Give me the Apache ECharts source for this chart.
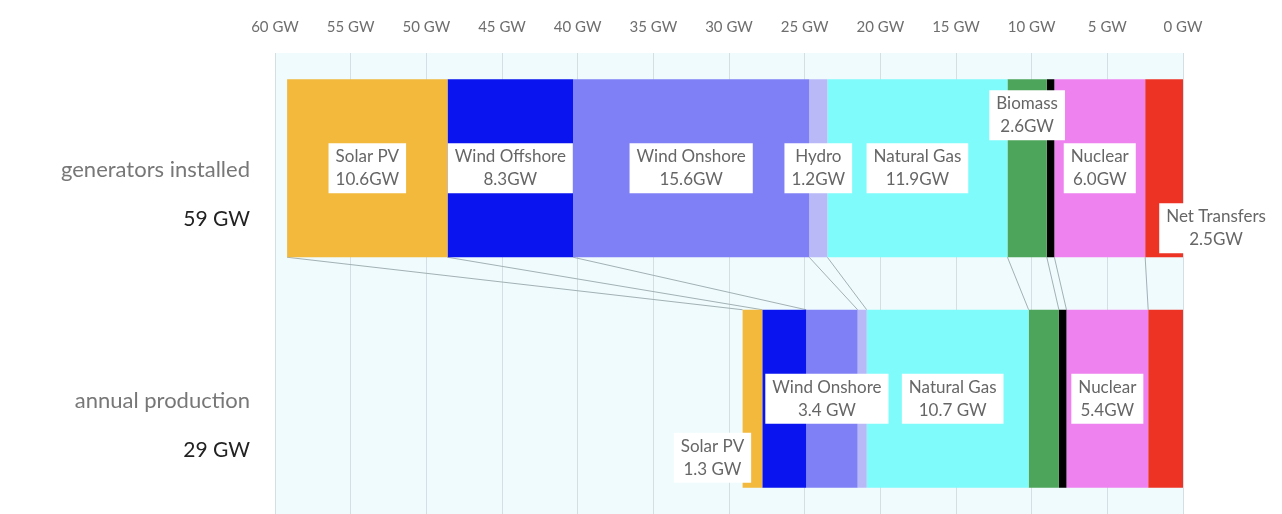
<!DOCTYPE html>
<html>
<head>
<meta charset="utf-8">
<script src="https://cdn.jsdelivr.net/npm/echarts@6/dist/echarts.min.js"></script>
<style>
  html, body { margin: 0; padding: 0; background: #ffffff; }
  #chart { width: 1282px; height: 514px; }
</style>
</head>
<body>
<div id="chart"></div>
<script>
// ---- data ----
const CATEGORIES = ['generators installed', 'annual production'];
const TOTALS = ['59 GW', '29 GW'];
// stacked from 0 GW (right) towards 60 GW (left)
const SOURCES = ['Net Transfers', 'Nuclear', 'Coal', 'Biomass', 'Natural Gas', 'Hydro', 'Wind Onshore', 'Wind Offshore', 'Solar PV'];
const INSTALLED = [2.5, 6.0, 0.5, 2.6, 11.9, 1.2, 15.6, 8.3, 10.6];
const PRODUCTION = [2.3, 5.4, 0.5, 2.0, 10.7, 0.6, 3.4, 2.9, 1.3];
const INSTALLED_VALUE_TEXT = ['2.5GW', '6.0GW', null, '2.6GW', '11.9GW', '1.2GW', '15.6GW', '8.3GW', '10.6GW'];
const PRODUCTION_VALUE_TEXT = [null, '5.4GW', null, null, '10.7 GW', null, '3.4 GW', null, '1.3 GW'];
const X_MIN = 0, X_MAX = 60, X_STEP = 5, X_UNIT = ' GW';

// ---- styles ----
const COLORS = {
  'Net Transfers': '#ec3324',
  'Nuclear': '#ee82ee',
  'Coal': '#000000',
  'Biomass': '#4ca55a',
  'Natural Gas': '#7ffbfb',
  'Hydro': '#b9b9f8',
  'Wind Onshore': '#8080f6',
  'Wind Offshore': '#0a14ee',
  'Solar PV': '#f2b93c'
};
const LABEL_OFFSETS = {
  installed: { 'Biomass': [0, -53], 'Net Transfers': [52, 60] },
  production: { 'Solar PV': [-40, 59], 'Wind Onshore': [-5, 0], 'Natural Gas': [5, 0] }
};
const BAR_W = 178;
const FONT = 'Lato, "Open Sans", sans-serif';

const labelBase = {
  show: true,
  position: 'inside',
  backgroundColor: '#ffffff',
  color: '#666666',
  fontFamily: FONT,
  fontSize: 17,
  lineHeight: 23,
  padding: [3, 7, 1, 7],
  align: 'center'
};

function makeItem(value, source, valueText, offsets) {
  const item = { value: value };
  if (valueText) {
    item.label = Object.assign({}, labelBase, {
      formatter: source + '\n' + valueText,
      offset: offsets[source] || [0, 0]
    });
  } else {
    item.label = { show: false };
  }
  return item;
}

const barSeries = SOURCES.map((src, i) => ({
  name: src,
  type: 'bar',
  stack: 'total',
  barWidth: BAR_W,
  itemStyle: { color: COLORS[src] },
  emphasis: { disabled: true },
  data: [
    makeItem(INSTALLED[i], src, INSTALLED_VALUE_TEXT[i], LABEL_OFFSETS.installed),
    makeItem(PRODUCTION[i], src, PRODUCTION_VALUE_TEXT[i], LABEL_OFFSETS.production)
  ],
  z: 3
}));

// cumulative boundaries (left edge of each segment) for connector lines
const links = [];
let cTop = 0, cBot = 0;
for (let i = 0; i < SOURCES.length; i++) {
  cTop += INSTALLED[i];
  cBot += PRODUCTION[i];
  links.push([+cTop.toFixed(2), +cBot.toFixed(2), 0]);
}

const linkSeries = {
  type: 'custom',
  encode: { x: [0, 1], y: 2 },
  data: links,
  silent: true,
  z: 2,
  renderItem: function (params, api) {
    const p1 = api.coord([api.value(0), 0]);
    const p2 = api.coord([api.value(1), 1]);
    return {
      type: 'line',
      shape: { x1: p1[0], y1: p1[1] + BAR_W / 2, x2: p2[0], y2: p2[1] - BAR_W / 2 },
      style: { stroke: '#a3b1b5', lineWidth: 1 }
    };
  }
};

const chart = echarts.init(document.getElementById('chart'), null, { renderer: 'canvas' });
chart.setOption({
  animation: false,
  backgroundColor: '#ffffff',
  grid: {
    left: 275, right: 99, top: 53, height: 464,
    show: true, backgroundColor: '#effbfd', borderWidth: 0
  },
  xAxis: {
    type: 'value',
    position: 'top',
    inverse: true,
    min: X_MIN, max: X_MAX, interval: X_STEP,
    axisLine: { show: false },
    axisTick: { show: false },
    axisLabel: {
      formatter: v => v + X_UNIT,
      color: '#6e6e6e',
      fontFamily: FONT,
      fontSize: 15,
      margin: 18
    },
    splitLine: { show: true, lineStyle: { color: '#d3dfe2', width: 1 } }
  },
  yAxis: {
    type: 'category',
    inverse: true,
    data: CATEGORIES,
    axisLine: { show: false },
    axisTick: { show: false },
    axisLabel: {
      margin: 25,
      formatter: (v, i) => '{s| }\n{a|' + v + '}\n{b|' + TOTALS[i] + '}',
      rich: {
        s: { lineHeight: 52, fontSize: 10 },
        a: { fontSize: 22, color: '#777777', fontFamily: FONT, lineHeight: 50 },
        b: { fontSize: 21, color: '#222222', fontFamily: FONT, lineHeight: 48 }
      }
    }
  },
  series: barSeries.concat([linkSeries])
});
</script>
</body>
</html>
